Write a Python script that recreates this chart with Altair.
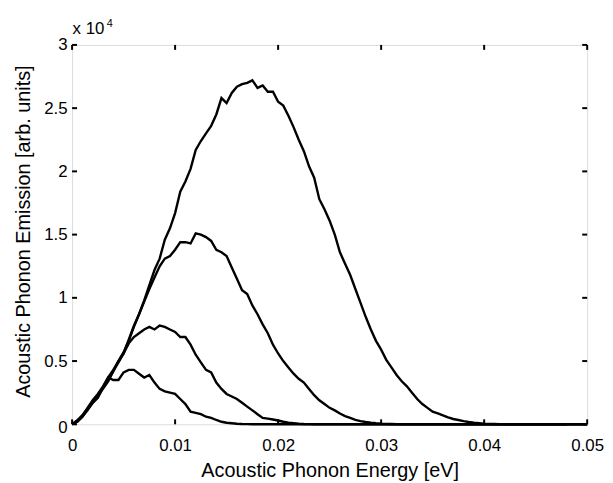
import altair as alt
import numpy as np
import pandas as pd

# Energy grid in eV (0 ... 0.05, step 0.0005)
energy = list(np.round(np.arange(101) * 0.0005, 4))

# Acoustic phonon emission in units of 1e4
curve_a = [0, 0.02, 0.06, 0.11, 0.17, 0.21, 0.29, 0.37, 0.35, 0.35,
           0.41, 0.43, 0.43, 0.40, 0.37, 0.39, 0.33, 0.28, 0.26, 0.25,
           0.24, 0.20, 0.16, 0.10, 0.09, 0.08, 0.06, 0.05, 0.034, 0.02,
           0.012, 0.008, 0.004, 0.002, 0.001,
           0, 0, 0, 0, 0, 0, 0, 0, 0, 0, 0, 0, 0, 0, 0, 0, 0, 0, 0, 0, 0,
           0, 0, 0, 0, 0, 0, 0, 0, 0, 0, 0, 0, 0, 0, 0, 0, 0, 0, 0, 0, 0,
           0, 0, 0, 0, 0, 0, 0, 0, 0, 0, 0, 0, 0, 0, 0, 0, 0, 0, 0, 0]
curve_b = [0, 0.03, 0.07, 0.13, 0.19, 0.24, 0.30, 0.37, 0.43, 0.50,
           0.56, 0.64, 0.69, 0.72, 0.75, 0.77, 0.75, 0.78, 0.77, 0.75,
           0.73, 0.69, 0.69, 0.63, 0.55, 0.49, 0.43, 0.41, 0.33, 0.28,
           0.24, 0.22, 0.20, 0.17, 0.14, 0.11, 0.08, 0.05, 0.045, 0.038,
           0.03, 0.02, 0.012, 0.008, 0.004, 0.002, 0.001,
           0, 0, 0, 0, 0, 0, 0, 0, 0, 0, 0, 0, 0, 0, 0, 0, 0, 0, 0, 0, 0,
           0, 0, 0, 0, 0, 0, 0, 0, 0, 0, 0, 0, 0, 0, 0, 0, 0, 0, 0, 0, 0,
           0, 0, 0, 0, 0, 0, 0, 0, 0, 0, 0, 0]
curve_c = [0, 0.02, 0.06, 0.12, 0.18, 0.23, 0.28, 0.34, 0.42, 0.50,
           0.57, 0.66, 0.77, 0.87, 0.97, 1.07, 1.16, 1.25, 1.31, 1.33,
           1.38, 1.44, 1.44, 1.43, 1.51, 1.50, 1.48, 1.45, 1.38, 1.36,
           1.33, 1.24, 1.15, 1.06, 1.03, 0.94, 0.87, 0.79, 0.72, 0.63,
           0.56, 0.50, 0.45, 0.40, 0.36, 0.33, 0.28, 0.23, 0.19, 0.16,
           0.13, 0.11, 0.085, 0.065, 0.05, 0.035, 0.025, 0.018, 0.012, 0.008,
           0.005, 0.003, 0.002, 0.001,
           0, 0, 0, 0, 0, 0, 0, 0, 0, 0, 0, 0, 0, 0, 0, 0, 0, 0, 0, 0, 0,
           0, 0, 0, 0, 0, 0, 0, 0, 0, 0, 0, 0, 0, 0, 0, 0]
curve_d = [0, 0.03, 0.07, 0.12, 0.17, 0.22, 0.29, 0.35, 0.42, 0.49,
           0.56, 0.67, 0.78, 0.87, 0.98, 1.10, 1.22, 1.31, 1.46, 1.55,
           1.67, 1.84, 1.92, 2.02, 2.17, 2.24, 2.30, 2.36, 2.45, 2.58,
           2.54, 2.62, 2.67, 2.69, 2.70, 2.72, 2.66, 2.68, 2.63, 2.63,
           2.55, 2.52, 2.44, 2.35, 2.25, 2.16, 2.04, 1.95, 1.78, 1.70,
           1.61, 1.50, 1.36, 1.27, 1.18, 1.07, 0.96, 0.85, 0.75, 0.66,
           0.59, 0.51, 0.45, 0.39, 0.34, 0.30, 0.25, 0.20, 0.16, 0.13,
           0.10, 0.087, 0.07, 0.055, 0.042, 0.034, 0.025, 0.018, 0.012, 0.008,
           0.004, 0.003, 0.002, 0.001,
           0, 0, 0, 0, 0, 0, 0, 0, 0, 0, 0, 0, 0, 0, 0, 0, 0]

series = {"a": curve_a, "b": curve_b, "c": curve_c, "d": curve_d}
x_ticks = [0, 0.01, 0.02, 0.03, 0.04, 0.05]
y_ticks = [0, 0.5, 1, 1.5, 2, 2.5, 3]

rows = []
for name, vals in series.items():
    for e, v in zip(energy, vals):
        rows.append({"series": name, "energy": e, "emission": v})
df = pd.DataFrame(rows)
xt = pd.DataFrame({"energy": x_ticks})
yt = pd.DataFrame({"emission": y_ticks})

W, H = 520, 383
TL = 5  # inward tick length
FONT = "Liberation Sans"

xscale = alt.Scale(domain=[0, 0.05], nice=False, zero=False)
yscale = alt.Scale(domain=[0, 3], nice=False, zero=False)

main = alt.Chart(df).mark_line(color="black", strokeWidth=2.4).encode(
    x=alt.X("energy:Q", scale=xscale, axis=alt.Axis(
        orient="bottom", values=x_ticks, format="~g", ticks=False,
        domain=False, grid=False, labelFlush=False, labelOverlap=False,
        labelFont=FONT, labelFontSize=17, labelColor="black", labelPadding=13,
        title="Acoustic Phonon Energy [eV]", titleFont=FONT, titleFontSize=20,
        titleFontWeight="normal", titleColor="black", titleY=53,
        titleBaseline="alphabetic")),
    y=alt.Y("emission:Q", scale=yscale, axis=alt.Axis(
        orient="left", values=y_ticks, format="~g", ticks=False,
        domain=False, grid=False, labelFlush=False, labelOverlap=False,
        labelFont=FONT, labelFontSize=17, labelColor="black", labelPadding=5,
        labelOffset={"condition": {"test": "datum.value === 0", "value": 3}, "value": 0},
        title="Acoustic Phonon Emission [arb. units]", titleFont=FONT,
        titleFontSize=20, titleFontWeight="normal", titleColor="black",
        titleX=-49, titleY=188, titleBaseline="middle", titleAngle=270)),
    detail="series:N",
)

xtick_bottom = alt.Chart(xt).mark_rule(color="black", strokeWidth=2).encode(
    x=alt.X("energy:Q", scale=xscale, axis=None),
    y=alt.value(H), y2=alt.value(H - TL))
xtick_top = alt.Chart(xt).mark_rule(color="black", strokeWidth=2).encode(
    x=alt.X("energy:Q", scale=xscale, axis=None),
    y=alt.value(0), y2=alt.value(TL))
ytick_left = alt.Chart(yt).mark_rule(color="black", strokeWidth=2).encode(
    y=alt.Y("emission:Q", scale=yscale, axis=None),
    x=alt.value(0), x2=alt.value(TL))
ytick_right = alt.Chart(yt).mark_rule(color="black", strokeWidth=2).encode(
    y=alt.Y("emission:Q", scale=yscale, axis=None),
    x=alt.value(W), x2=alt.value(W - TL))

mult = alt.Chart(pd.DataFrame({"t": ["x 10"]})).mark_text(
    font=FONT, fontSize=17, color="black", align="left", baseline="alphabetic"
).encode(text="t:N", x=alt.value(0.5), y=alt.value(-11))

expo = alt.Chart(pd.DataFrame({"t": ["4"]})).mark_text(
    font=FONT, fontSize=11, color="black", align="left", baseline="alphabetic"
).encode(text="t:N", x=alt.value(35), y=alt.value(-18))

chart = alt.layer(
    main, xtick_bottom, xtick_top, ytick_left, ytick_right, mult, expo
).resolve_axis(
    x="independent", y="independent"
).properties(
    width=W, height=H,
    autosize=alt.AutoSizeParams(type="none"),
    padding={"left": 64.7, "top": 35, "right": 18, "bottom": 57},
).configure_view(stroke="black", strokeWidth=2).configure(background="white")

chart.save("out.html", embed_options={"renderer": "svg", "actions": False})
